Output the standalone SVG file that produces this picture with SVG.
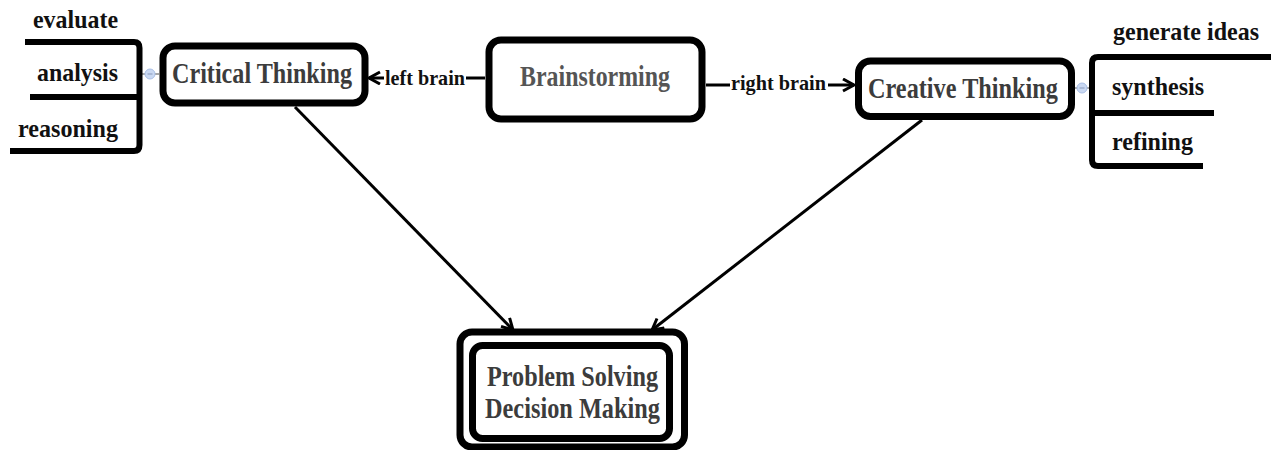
<svg xmlns="http://www.w3.org/2000/svg" width="1273" height="450" viewBox="0 0 1273 450">
<style>
  .box{fill:#fff;stroke:#000;stroke-width:7}
  .br{fill:none;stroke:#000;stroke-width:6;stroke-linecap:butt}
  .ln{fill:none;stroke:#000;stroke-width:3}
  .t{font-family:"Liberation Serif","Times New Roman",serif;font-weight:bold}
  .node{fill:#3c3c3c;font-size:30px}
  .lab{fill:#111;font-size:22px}
  .item{fill:#111;font-size:26px}
  .dot{fill:#c9d8f2;stroke:#a9bfe6;stroke-width:1}
</style>
<defs>
  <marker id="arr" markerUnits="userSpaceOnUse" markerWidth="16" markerHeight="16" refX="12" refY="7" orient="auto">
    <path d="M1,1 L12,7 L1,13" fill="none" stroke="#000" stroke-width="3"/>
  </marker>
</defs>
<g id="connectors">
  <line class="ln" x1="485" y1="78" x2="466" y2="78"/>
  <line class="ln" x1="384" y1="78" x2="369" y2="78" marker-end="url(#arr)"/>
  <text class="t lab" x="385" y="85" textLength="80" lengthAdjust="spacingAndGlyphs">left brain</text>
  <line class="ln" x1="706" y1="85" x2="730" y2="85"/>
  <line class="ln" x1="828" y1="85" x2="854" y2="85" marker-end="url(#arr)"/>
  <text class="t lab" x="731" y="90" textLength="95" lengthAdjust="spacingAndGlyphs">right brain</text>
  <line class="ln" x1="295" y1="107" x2="513" y2="330" marker-end="url(#arr)"/>
  <line class="ln" x1="922" y1="120" x2="652" y2="330" marker-end="url(#arr)"/>
  <line x1="142" y1="74" x2="159" y2="74" stroke="#888" stroke-width="1.5"/>
  <circle class="dot" cx="150" cy="74" r="5"/>
  <line x1="147.5" y1="74" x2="152.5" y2="74" stroke="#8899bb" stroke-width="1"/>
  <line x1="1075" y1="88" x2="1089" y2="88" stroke="#888" stroke-width="1.5"/>
  <circle class="dot" cx="1082" cy="88" r="5"/>
  <line x1="1079.5" y1="88" x2="1084.5" y2="88" stroke="#8899bb" stroke-width="1"/>
</g>
<g id="critical-details">
  <path class="br" d="M25,42 H134 Q139.5,42 139.5,48 V145 Q139.5,151 134,151 H10"/>
  <path class="br" d="M30,97 H139.5"/>
  <text class="t item" x="33" y="28" textLength="85" lengthAdjust="spacingAndGlyphs">evaluate</text>
  <text class="t item" x="37" y="81" textLength="81" lengthAdjust="spacingAndGlyphs">analysis</text>
  <text class="t item" x="18" y="137" textLength="100" lengthAdjust="spacingAndGlyphs">reasoning</text>
</g>
<g id="creative-details">
  <path class="br" d="M1271,57 H1098 Q1092,57 1092,63 V160 Q1092,166 1098,166 H1203"/>
  <path class="br" d="M1092,113 H1214"/>
  <text class="t item" x="1113" y="40" textLength="146" lengthAdjust="spacingAndGlyphs">generate ideas</text>
  <text class="t item" x="1112" y="95" textLength="92" lengthAdjust="spacingAndGlyphs">synthesis</text>
  <text class="t item" x="1112" y="150" textLength="81" lengthAdjust="spacingAndGlyphs">refining</text>
</g>
<g id="critical">
  <rect class="box" x="163" y="46" width="202" height="57" rx="12"/>
  <text class="t node" transform="translate(172,83) scale(0.8,1)" textLength="225" lengthAdjust="spacingAndGlyphs">Critical Thinking</text>
</g>
<g id="brainstorming">
  <rect class="box" x="489" y="40" width="213" height="79" rx="12"/>
  <text class="t node" transform="translate(520,86) scale(0.8,1)" textLength="187.5" lengthAdjust="spacingAndGlyphs" style="fill:#555">Brainstorming</text>
</g>
<g id="creative">
  <rect class="box" x="858.5" y="61" width="213" height="55.5" rx="12"/>
  <text class="t node" transform="translate(868,98) scale(0.8,1)" textLength="237.5" lengthAdjust="spacingAndGlyphs">Creative Thinking</text>
</g>
<g id="problem">
  <rect class="box" x="460" y="332" width="224.5" height="115" rx="12" stroke-width="6"/>
  <rect class="box" x="472.5" y="345.5" width="197" height="93" rx="10"/>
  <text class="t node" transform="translate(487,386) scale(0.8,1)" textLength="213.75" lengthAdjust="spacingAndGlyphs">Problem Solving</text>
  <text class="t node" transform="translate(485,418) scale(0.8,1)" textLength="218.75" lengthAdjust="spacingAndGlyphs">Decision Making</text>
</g>
</svg>
